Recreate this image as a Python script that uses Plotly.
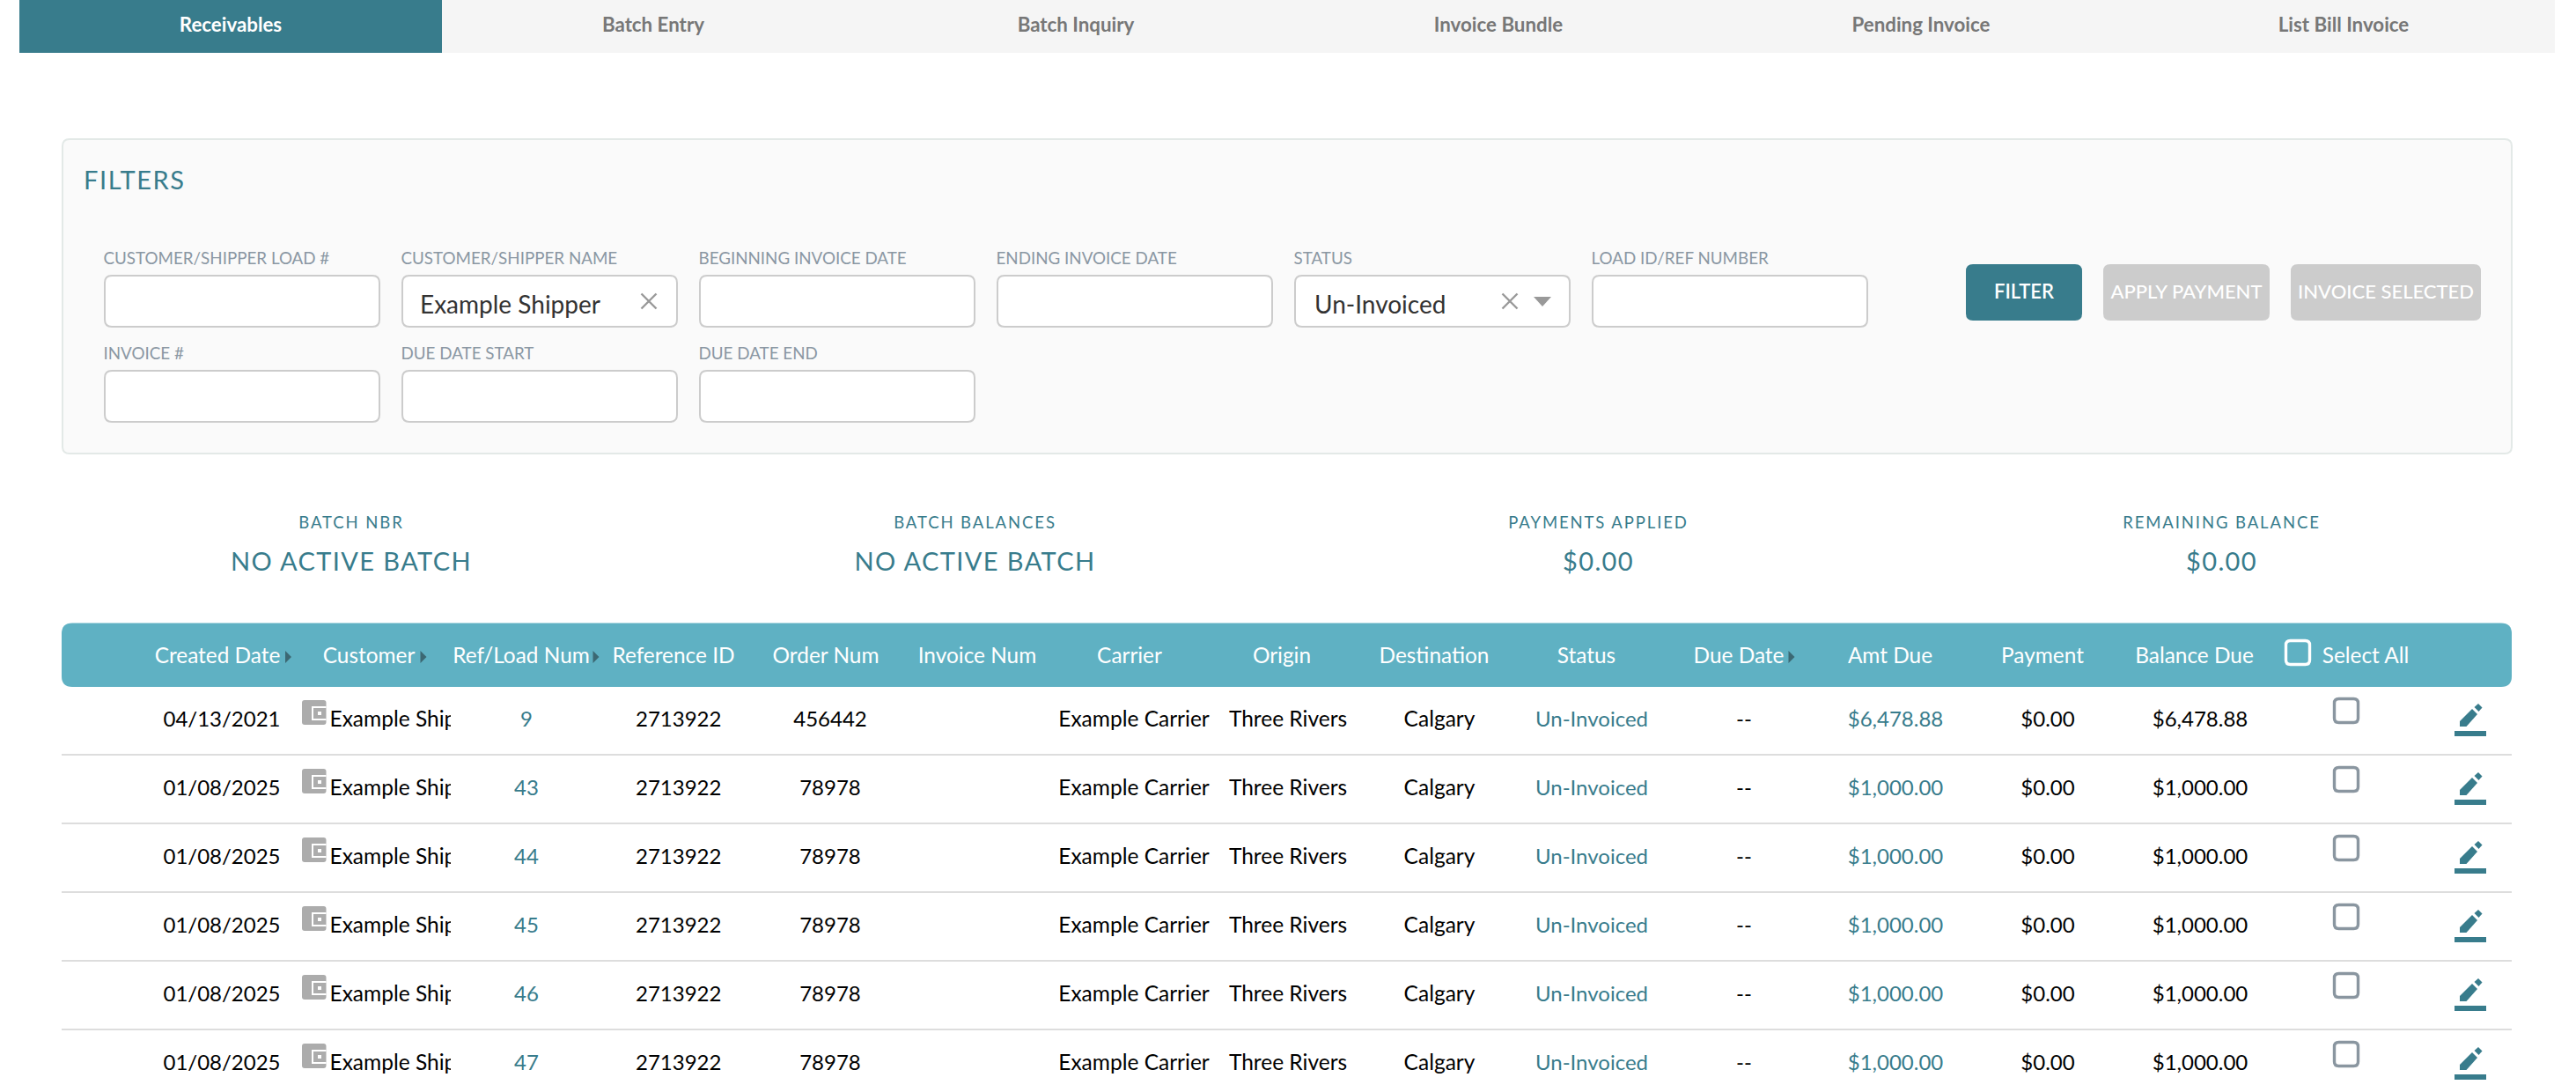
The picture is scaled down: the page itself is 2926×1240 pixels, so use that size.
import plotly.graph_objects as go

# ---------- content ----------
tabs = ["Receivables", "Batch Entry", "Batch Inquiry", "Invoice Bundle", "Pending Invoice", "List Bill Invoice"]
filter_labels_row1 = ["CUSTOMER/SHIPPER LOAD #", "CUSTOMER/SHIPPER NAME", "BEGINNING INVOICE DATE",
                      "ENDING INVOICE DATE", "STATUS", "LOAD ID/REF NUMBER"]
filter_labels_row2 = ["INVOICE #", "DUE DATE START", "DUE DATE END"]
buttons = ["FILTER", "APPLY PAYMENT", "INVOICE SELECTED"]
summary_labels = ["BATCH NBR", "BATCH BALANCES", "PAYMENTS APPLIED", "REMAINING BALANCE"]
summary_values = ["NO ACTIVE BATCH", "NO ACTIVE BATCH", "$0.00", "$0.00"]
headers = ["Created Date", "Customer", "Ref/Load Num", "Reference ID", "Order Num", "Invoice Num", "Carrier",
           "Origin", "Destination", "Status", "Due Date", "Amt Due", "Payment", "Balance Due", "Select All"]

created_dates = ["04/13/2021", "01/08/2025", "01/08/2025", "01/08/2025", "01/08/2025", "01/08/2025"]
customers = ["Example Ship"] * 6
ref_nums = ["9", "43", "44", "45", "46", "47"]
reference_ids = ["2713922"] * 6
order_nums = ["456442", "78978", "78978", "78978", "78978", "78978"]
carriers = ["Example Carrier"] * 6
origins = ["Three Rivers"] * 6
destinations = ["Calgary"] * 6
statuses = ["Un-Invoiced"] * 6
due_dates = ["--"] * 6
amt_due = ["$6,478.88", "$1,000.00", "$1,000.00", "$1,000.00", "$1,000.00", "$1,000.00"]
payments = ["$0.00"] * 6
balance_due = ["$6,478.88", "$1,000.00", "$1,000.00", "$1,000.00", "$1,000.00", "$1,000.00"]

# ---------- layout constants ----------
W, H = 2926, 1240
TEAL, HEAD, GREY_TXT, LABEL = "#387c8c", "#5fb1c3", "#777777", "#8a97a3"
FONT = "Lato"
shapes, traces = [], []


def rr(x0, y0, x1, y1, r):
    return (f"M{x0+r},{y0} L{x1-r},{y0} Q{x1},{y0} {x1},{y0+r} L{x1},{y1-r} Q{x1},{y1} {x1-r},{y1} "
            f"L{x0+r},{y1} Q{x0},{y1} {x0},{y1-r} L{x0},{y0+r} Q{x0},{y0} {x0+r},{y0} Z")


def box(x0, y0, x1, y1, r=0, fill="rgba(0,0,0,0)", line=None, lw=0, layer="below"):
    shapes.append(dict(type="path", path=rr(x0, y0, x1, y1, r), fillcolor=fill, layer=layer,
                       line=dict(color=line or "rgba(0,0,0,0)", width=lw)))


def poly(points, fill):
    d = "M" + " L".join(f"{a},{b}" for a, b in points) + " Z"
    shapes.append(dict(type="path", path=d, fillcolor=fill, line=dict(width=0), layer="below"))


def text(xs, ys, labels, size, color, weight=400, pos="middle center"):
    traces.append(go.Scatter(x=xs, y=ys, text=labels, mode="text", textposition=pos, hoverinfo="skip",
                             cliponaxis=False, showlegend=False,
                             textfont=dict(family=FONT, size=size, color=color, weight=weight)))


def cross(x, y, color="#999999"):
    traces.append(go.Scatter(x=[x], y=[y], mode="markers", hoverinfo="skip", showlegend=False,
                             marker=dict(symbol="x-thin", size=17, line=dict(color=color, width=2.4))))


# tabs
box(22, 0, 2902, 60, fill="#f5f5f5")
box(22, 0, 502, 60, fill=TEAL)
tab_x = [262 + 480 * i for i in range(len(tabs))]
text(tab_x[:1], [30], tabs[:1], 22.3, "#ffffff", 700)
text(tab_x[1:], [30] * 5, tabs[1:], 22.3, GREY_TXT, 700)

# filter panel
box(71, 158, 2853, 515, r=8, fill="#fafafa", line="#e3e9e7", lw=2)
text([95], [208], ["FILTERS"], 29, TEAL, pos="middle right")
field_x = [119 + 338 * i for i in range(6)]
FW = 312
for x in field_x:
    box(x, 313, x + FW, 371, r=8, fill="#ffffff", line="#cccccc", lw=2)
for x in field_x[:3]:
    box(x, 421, x + FW, 479, r=8, fill="#ffffff", line="#cccccc", lw=2)
text([x - 1.5 for x in field_x], [295.5] * 6, filter_labels_row1, 18.8, LABEL, pos="middle right")
text([x - 1.5 for x in field_x[:3]], [403] * 3, filter_labels_row2, 18.8, LABEL, pos="middle right")
text([477, 1493], [349, 349], ["Example Shipper", "Un-Invoiced"], 28, "#333333", pos="middle right")
cross(737, 342)
cross(1715, 342)
poly([(1742, 337), (1762, 337), (1752, 348)], "#999999")

# buttons
btn_x = [(2233, 2365, TEAL), (2389, 2578, "#cccccc"), (2602, 2818, "#cccccc")]
for x0, x1, c in btn_x:
    box(x0, 300, x1, 364, r=8, fill=c)
btn_cx = [(b[0] + b[1]) / 2 for b in btn_x]
text(btn_cx[:1], [333.5], buttons[:1], 22, "#ffffff", 600)
text(btn_cx[1:], [333.5] * 2, buttons[1:], 22, "#ffffff", 500)

# summary
sum_x = [399, 1107.5, 1815.5, 2523.5]
text(sum_x, [595] * 4, summary_labels, 18.5, TEAL, 400)
text(sum_x, [641] * 4, summary_values, 29, TEAL, 400)

# table header
box(70, 707.5, 2853, 780, r=12, fill=HEAD)
head_x = [247, 419, 592, 765, 938, 1110, 1283, 1456, 1629, 1802, 1975, 2147, 2320, 2492.5, 2687]
text(head_x, [747] * 15, headers, 24.4, "#ffffff")
for tx in [327.5, 481, 677, 2035]:
    poly([(tx - 3.5, 739), (tx + 3.5, 746), (tx - 3.5, 753)], "#3c6873")
box(2596.5, 727.5, 2623.5, 754.5, r=5, line="#ffffff", lw=3.4)

# rows
ROW0, TEXT0, PITCH, N = 817, 819, 78, 6
row_y = [ROW0 + PITCH * i for i in range(N)]
text_y = [TEXT0 + PITCH * i for i in range(N)]
for i in range(1, N):
    y = 779 + PITCH * i
    shapes.append(dict(type="line", x0=70, x1=2853, y0=y, y1=y, line=dict(color="#dddddd", width=2), layer="below"))

columns = [
    (252, created_dates, "#000000", 24), (598, ref_nums, TEAL, 24), (770.7, reference_ids, "#000000", 24),
    (943, order_nums, "#000000", 24), (1288, carriers, "#000000", 24.5), (1463, origins, "#000000", 24.5),
    (1635, destinations, "#000000", 24.5), (1808, statuses, TEAL, 24), (1981, due_dates, "#000000", 24),
    (2153, amt_due, TEAL, 24), (2326, payments, "#000000", 24), (2499, balance_due, "#000000", 24),
]
for cx, vals, col, fs in columns:
    text([cx] * N, text_y, vals, fs, col)
text([374.5] * N, text_y, customers, 24.5, "#000000", pos="middle right")

for y in row_y:
    # customer icon
    box(343, y - 22, 370.5, y + 6, r=3, fill="#acacac")
    shapes.append(dict(type="path", path=f"M370.5,{y-14} L355,{y-14} L355,{y} L370.5,{y}",
                       line=dict(color="#ffffff", width=2), layer="below"))
    box(361, y - 9, 365, y - 5, fill="#ffffff")
    # clip for truncated name
    shapes.append(dict(type="rect", x0=512, x1=530, y0=y - 18, y1=y + 22, fillcolor="#ffffff", line=dict(width=0), layer="above"))
    # checkbox
    box(2651.5, y - 23.5, 2678.5, y + 3.5, r=5, line="#8a96a0", lw=3.4)
    # edit icon
    box(2788, y + 13, 2824, y + 19, fill=TEAL)
    poly([(2794, y + 8), (2794, y + 2), (2808, y - 12), (2814, y - 6), (2801.5, y + 8)], TEAL)
    poly([(2810.5, y - 14), (2815, y - 18), (2819.5, y - 13.5), (2815.5, y - 9)], TEAL)

fig = go.Figure(traces)
ax = dict(visible=False, fixedrange=True, showgrid=False, zeroline=False)
fig.update_layout(width=W, height=H, margin=dict(l=0, r=0, t=0, b=0), paper_bgcolor="#ffffff",
                  plot_bgcolor="#ffffff", shapes=shapes, showlegend=False,
                  xaxis=dict(range=[0, W], **ax), yaxis=dict(range=[H, 0], **ax))

post = """
document.body.style.margin = '0';
var sp = {'FILTERS':'1.6px','BATCH NBR':'1.9px','BATCH BALANCES':'1.9px','PAYMENTS APPLIED':'1.9px',
          'REMAINING BALANCE':'1.9px','NO ACTIVE BATCH':'1.4px'};
document.querySelectorAll('.textpoint text').forEach(function(t){
  var k = t.textContent; if (sp[k]) t.style.letterSpacing = sp[k];
  if (k==='$0.00' && parseFloat(t.style.fontSize)>26) t.style.letterSpacing='1.4px';
});
"""
fig.write_html("out.html", config={"displayModeBar": False, "staticPlot": True}, post_script=post)
